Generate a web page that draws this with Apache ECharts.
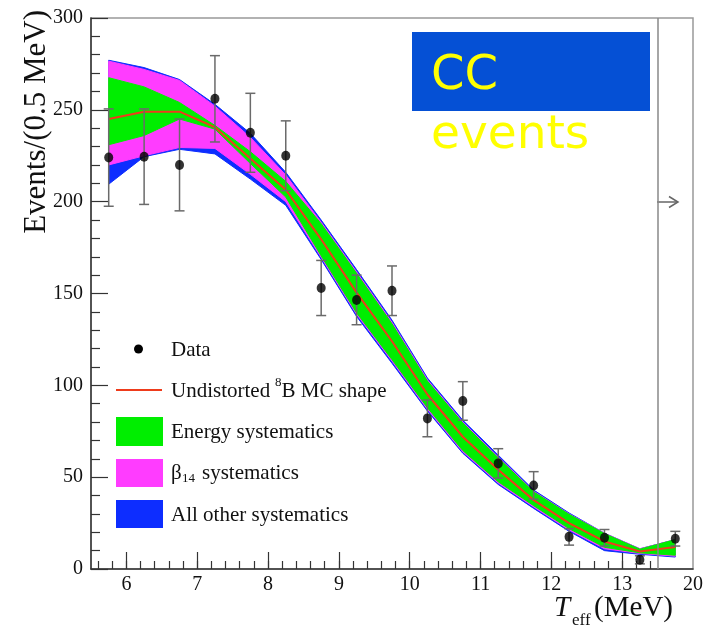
<!DOCTYPE html>
<html>
<head>
<meta charset="utf-8">
<script src="https://cdn.jsdelivr.net/npm/echarts@6/dist/echarts.min.js"></script>
<style>
  html, body { margin: 0; padding: 0; background: #fff; }
  #chart { width: 717px; height: 631px; }
</style>
</head>
<body>
<div id="chart"></div>
<script>
// Bin centres of the effective kinetic energy (MeV); the last bin (13.5-20) is drawn compressed
const energy = [5.75, 6.25, 6.75, 7.25, 7.75, 8.25, 8.75, 9.25, 9.75, 10.25, 10.75, 11.25, 11.75, 12.25, 12.75, 13.25, 13.75];

// Measured CC events per bin and their uncertainties
const events = [224, 224.5, 220, 256, 237.5, 225, 153, 146.5, 151.5, 82, 91.5, 57.5, 45.5, 17.5, 17, 5, 16.5];
const eventErr = [26.5, 26, 25, 23.5, 21.5, 19, 15, 13.5, 13.5, 10, 10.5, 8, 7.5, 4.5, 4.5, 2.2, 4];

// Undistorted 8B MC shape
const mcShape = [245, 249, 249, 240.5, 223.5, 206.5, 179.5, 150.5, 124, 95, 72, 54, 37.5, 25, 15, 9.5, 12];

// Systematic bands (upper / lower edges)
const otherHi = [277, 273, 266.5, 253, 237.2, 216, 190, 163, 135.5, 104, 81, 62, 43, 30.5, 19.5, 11, 16];
const otherLo = [209.5, 224.5, 228.5, 226, 212.3, 198, 168.5, 137.5, 112, 86, 63, 46, 33, 20.5, 10, 8, 6.5];
const betaHi  = [276.5, 272, 266, 252, 235, 214.5, 188.8, 161.8, 134.3, 103, 80, 61, 42.3, 30, 19.5, 11, 16];
const betaLo  = [220, 225, 229.5, 229, 214.9, 200, 169.7, 138.7, 113.2, 87, 63.8, 46.8, 33.8, 21.3, 11, 8.5, 7];
const energyHi = [267.5, 262.5, 254, 241.5, 227.2, 211, 188, 161, 133.5, 102.3, 79.5, 60.5, 42, 29.8, 19.3, 10.8, 16];
const energyLo = [231, 236, 245, 239.5, 220.8, 202.5, 170.5, 139.5, 114, 87.8, 64.5, 47.5, 34.5, 22, 11.8, 8.8, 7.5];

// Axis ticks
const xMajorTicks = [6, 7, 8, 9, 10, 11, 12, 13];
const xLabelTicks = [6, 7, 8, 9, 10, 11, 12, 13, 14];
const xMinorTicks = [];
for (let k = 28; k <= 67; k++) xMinorTicks.push(Math.round(k * 0.2 * 10) / 10);
const lastBinBoundary = 13.5;

const COL_OTHER = '#0d2dff';
const COL_BETA = '#ff3cff';
const COL_ENERGY = '#00ee00';
const COL_MC = '#ee3b1b';
const SERIF = 'Liberation Serif';

function bandSeries(name, hi, lo, color, z) {
  return {
    name: name,
    type: 'custom',
    z: z,
    silent: true,
    data: [[energy[0], hi[0]]],
    renderItem: function (params, api) {
      const pts = [];
      for (let i = 0; i < energy.length; i++) pts.push(api.coord([energy[i], hi[i]]));
      for (let i = energy.length - 1; i >= 0; i--) pts.push(api.coord([energy[i], lo[i]]));
      return {
        type: 'polygon',
        shape: { points: pts },
        style: { fill: color, stroke: color, lineWidth: 1 }
      };
    }
  };
}

const chart = echarts.init(document.getElementById('chart'), null, { renderer: 'canvas' });

const axisColor = '#333';

const option = {
  animation: false,
  backgroundColor: '#fff',
  grid: {
    left: 91, right: 24, top: 18, bottom: 62,
    show: true, borderColor: '#999', borderWidth: 1.5, backgroundColor: 'transparent'
  },
  xAxis: [
    {
      type: 'value', min: 5.5, max: 14,
      axisLine: { lineStyle: { color: axisColor, width: 1.5 } },
      axisTick: { inside: true, length: 17, customValues: xMajorTicks, lineStyle: { color: axisColor, width: 1.2 } },
      axisLabel: {
        customValues: xLabelTicks,
        formatter: function (v) { return v === 14 ? '20' : String(v); },
        fontFamily: SERIF, fontSize: 20, color: '#111', margin: 6
      },
      splitLine: { show: false }
    },
    {
      type: 'value', min: 5.5, max: 14, position: 'bottom',
      axisLine: { show: false },
      axisTick: { inside: true, length: 8, customValues: xMinorTicks, lineStyle: { color: axisColor, width: 1.2 } },
      axisLabel: { show: false },
      splitLine: { show: false }
    }
  ],
  yAxis: {
    type: 'value', min: 0, max: 300, interval: 50,
    axisLine: { show: true, lineStyle: { color: axisColor, width: 1.5 } },
    axisTick: { show: true, inside: true, length: 17, lineStyle: { color: axisColor, width: 1.2 } },
    minorTick: { show: true, splitNumber: 5, length: 9, lineStyle: { color: axisColor, width: 1.2 } },
    axisLabel: { fontFamily: SERIF, fontSize: 20, color: '#111', margin: 8 },
    splitLine: { show: false },
    minorSplitLine: { show: false }
  },
  series: [
    bandSeries('All other systematics', otherHi, otherLo, COL_OTHER, 1),
    bandSeries('β14 systematics', betaHi, betaLo, COL_BETA, 2),
    bandSeries('Energy systematics', energyHi, energyLo, COL_ENERGY, 3),
    {
      name: 'Undistorted 8B MC shape',
      type: 'line',
      z: 4,
      silent: true,
      showSymbol: false,
      symbol: 'none',
      data: energy.map(function (e, i) { return [e, mcShape[i]]; }),
      lineStyle: { color: COL_MC, width: 2 },
      markLine: {
        silent: true,
        symbol: 'none',
        label: { show: false },
        lineStyle: { color: '#888', width: 1.5, type: 'solid' },
        data: [{ xAxis: lastBinBoundary }]
      }
    },
    {
      name: 'errors',
      type: 'custom',
      z: 5,
      silent: true,
      data: energy.map(function (e, i) { return [e, events[i], eventErr[i]]; }),
      renderItem: function (params, api) {
        const x = api.value(0), y = api.value(1), s = api.value(2);
        const top = api.coord([x, y + s]);
        const bot = api.coord([x, y - s]);
        const hw = 5;
        const st = { stroke: '#6a6a6a', lineWidth: 1.5 };
        return {
          type: 'group',
          children: [
            { type: 'line', shape: { x1: top[0], y1: top[1], x2: bot[0], y2: bot[1] }, style: st },
            { type: 'line', shape: { x1: top[0] - hw, y1: top[1], x2: top[0] + hw, y2: top[1] }, style: st },
            { type: 'line', shape: { x1: bot[0] - hw, y1: bot[1], x2: bot[0] + hw, y2: bot[1] }, style: st }
          ]
        };
      }
    },
    {
      name: 'Data',
      type: 'scatter',
      z: 6,
      silent: true,
      symbol: 'circle',
      symbolSize: [9, 10],
      itemStyle: { color: '#000' },
      data: energy.map(function (e, i) { return [e, events[i]]; })
    }
  ],
  graphic: [
    // axis titles
    {
      type: 'text', x: 37, y: 10, rotation: Math.PI / 2,
      style: { text: 'Events/(0.5 MeV)', fontFamily: SERIF, fontSize: 31, fill: '#111', align: 'right', verticalAlign: 'middle' }
    },
    {
      type: 'text', x: 554, y: 608,
      style: { text: 'T', fontFamily: SERIF, fontStyle: 'italic', fontSize: 29, fill: '#111', align: 'left', verticalAlign: 'middle' }
    },
    {
      type: 'text', x: 572, y: 621,
      style: { text: 'eff', fontFamily: SERIF, fontSize: 17, fill: '#111', align: 'left', verticalAlign: 'middle' }
    },
    {
      type: 'text', x: 673, y: 608,
      style: { text: '(MeV)', fontFamily: SERIF, fontSize: 29, fill: '#111', align: 'right', verticalAlign: 'middle' }
    },
    // arrow marking the extended last bin
    {
      type: 'polyline', shape: { points: [[657, 202], [678, 202]] },
      style: { stroke: '#666', lineWidth: 1.5, fill: null }
    },
    {
      type: 'polyline', shape: { points: [[669, 196.5], [678, 202], [669, 207.5]] },
      style: { stroke: '#666', lineWidth: 1.5, fill: null }
    },
    // CC events tag
    {
      type: 'rect', shape: { x: 412, y: 32, width: 238, height: 79 },
      style: { fill: '#0550d5' }
    },
    {
      type: 'text', x: 431, y: 76.5,
      style: { text: 'CC', fontFamily: 'DejaVu Sans', fontSize: 48, fill: '#ffff00', align: 'left', verticalAlign: 'middle' }
    },
    {
      type: 'text', x: 431, y: 135.5,
      style: { text: 'events', fontFamily: 'DejaVu Sans', fontSize: 47, fill: '#ffff00', align: 'left', verticalAlign: 'middle' }
    },
    // legend
    { type: 'circle', shape: { cx: 138.5, cy: 349, r: 4.5 }, style: { fill: '#000' } },
    { type: 'line', shape: { x1: 116, y1: 390, x2: 162, y2: 390 }, style: { stroke: COL_MC, lineWidth: 2 } },
    { type: 'rect', shape: { x: 116, y: 417, width: 47, height: 29 }, style: { fill: COL_ENERGY } },
    { type: 'rect', shape: { x: 116, y: 459, width: 47, height: 28 }, style: { fill: COL_BETA } },
    { type: 'rect', shape: { x: 116, y: 500, width: 47, height: 28 }, style: { fill: COL_OTHER } },
    { type: 'text', x: 171, y: 350, style: { text: 'Data', fontFamily: SERIF, fontSize: 21, fill: '#111', verticalAlign: 'middle' } },
    { type: 'text', x: 171, y: 391, style: { text: 'Undistorted', fontFamily: SERIF, fontSize: 21, fill: '#111', verticalAlign: 'middle' } },
    { type: 'text', x: 275, y: 383, style: { text: '8', fontFamily: SERIF, fontSize: 13, fill: '#111', verticalAlign: 'middle' } },
    { type: 'text', x: 281.5, y: 391, style: { text: 'B MC shape', fontFamily: SERIF, fontSize: 21, fill: '#111', verticalAlign: 'middle' } },
    { type: 'text', x: 171, y: 432, style: { text: 'Energy systematics', fontFamily: SERIF, fontSize: 21, fill: '#111', verticalAlign: 'middle' } },
    { type: 'text', x: 171, y: 473, style: { text: 'β', fontFamily: SERIF, fontSize: 21, fill: '#111', verticalAlign: 'middle' } },
    { type: 'text', x: 182, y: 479, style: { text: '14', fontFamily: SERIF, fontSize: 13, fill: '#111', verticalAlign: 'middle' } },
    { type: 'text', x: 202, y: 473, style: { text: 'systematics', fontFamily: SERIF, fontSize: 21, fill: '#111', verticalAlign: 'middle' } },
    { type: 'text', x: 171, y: 515, style: { text: 'All other systematics', fontFamily: SERIF, fontSize: 21, fill: '#111', verticalAlign: 'middle' } }
  ]
};

chart.setOption(option);
</script>
</body>
</html>
